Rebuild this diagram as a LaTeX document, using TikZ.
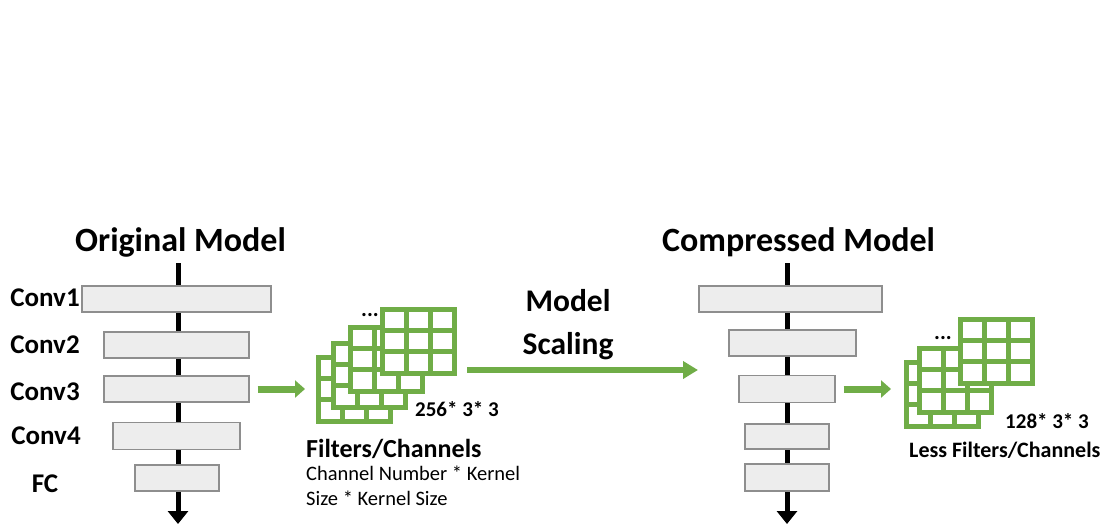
\documentclass[tikz,border=0pt]{standalone}
\usepackage{fontspec}
\setmainfont{Carlito}
\usetikzlibrary{arrows.meta}

\definecolor{leafgreen}{HTML}{70AD47}
\definecolor{boxgray}{HTML}{EDEDED}
\definecolor{edgegray}{HTML}{8E8E8E}

\tikzset{
  layerbox/.style={draw=edgegray, fill=boxgray, line width=1.4pt, inner sep=0pt},
  flow/.style={line width=5pt, -{Triangle[length=13pt,width=20pt]}},
  greenarrow/.style={leafgreen, line width=7pt, -{Triangle[length=10pt,width=17pt]}},
  title/.style={font=\bfseries\fontsize{34}{40}\selectfont, inner sep=0pt, anchor=base west},
  convlabel/.style={font=\bfseries\fontsize{27}{32}\selectfont, inner sep=0pt, anchor=base},
  note/.style={inner sep=0pt, anchor=base west},
  filter/.pic={
    \filldraw[draw=leafgreen, fill=white, line width=5pt] (0,0) rectangle (72,64);
    \foreach \i in {1,2} {
      \draw[leafgreen, line width=5pt] (24*\i,0) -- (24*\i,64);
      \draw[leafgreen, line width=5pt] (0,21.33*\i) -- (72,21.33*\i);
    }
  }
}

\begin{document}
\begin{tikzpicture}[x=1pt, y=-1pt]
  \useasboundingbox (0,0) rectangle (1104,525);

  % original model
  \node[title] (otitle) at (75,251) {Original Model};
  \coordinate (ltop) at (178,263);
  \coordinate (lbot) at (178,524);
  \draw [flow] (ltop) -- (lbot);

  \node[layerbox, minimum width=189pt, minimum height=26pt] (c1) at (176.5,299) {};
  \node[layerbox, minimum width=145pt, minimum height=26pt] (c2) at (176.5,345) {};
  \node[layerbox, minimum width=145pt, minimum height=26pt] (c3) at (176.5,389) {};
  \node[layerbox, minimum width=127pt, minimum height=27pt] (c4) at (176.5,436) {};
  \node[layerbox, minimum width=84pt, minimum height=26pt] (fc) at (177,478) {};

  \node[convlabel] (l1) at (45,306) {Conv1};
  \node[convlabel] (l2) at (45,353) {Conv2};
  \node[convlabel] (l3) at (45,400) {Conv3};
  \node[convlabel] (l4) at (46,444) {Conv4};
  \node[convlabel] (l5) at (45,492) {FC};

  % filters of the original model
  \foreach \fx/\fy in {318/357, 333/343, 350/327, 382/309}
    \pic at (\fx,\fy) {filter};
  \coordinate (fl) at (318,389);
  \coordinate (fr) at (455,370);
  \draw [greenarrow] ([xshift=8pt]c3.east) -- ([xshift=-13pt]fl);
  \node[note, font=\bfseries\fontsize{22}{24}\selectfont] (dots1) at (361,316) {...};
  \node[note, font=\bfseries\fontsize{21}{24}\selectfont] (n1) at (415,416) {256* 3* 3};
  \node[note, font=\bfseries\fontsize{26}{30}\selectfont] (f1) at (306,457) {Filters/Channels};
  \node[note, font=\fontsize{20.5}{25}\selectfont] (f2) at (306,480) {Channel Number * Kernel};
  \node[note, font=\fontsize{20.5}{25}\selectfont] (f3) at (306,505) {Size * Kernel Size};

  % scaling
  \node[font=\bfseries\fontsize{31.5}{43}\selectfont, align=center, inner sep=0pt] (scale) at (568,325) {Model\\Scaling};
  \coordinate (rin) at (698,370);
  \draw [greenarrow, line width=6pt, -{Triangle[length=15pt,width=17pt]}] ([xshift=12pt]fr) -- (rin);

  % compressed model
  \node[title] (ctitle) at (662,251) {Compressed Model};
  \coordinate (rtop) at (787,263);
  \coordinate (rbot) at (787,524);
  \draw [flow] (rtop) -- (rbot);

  \node[layerbox, minimum width=183pt, minimum height=26pt] (r1) at (790.5,299) {};
  \node[layerbox, minimum width=127pt, minimum height=26pt] (r2) at (792.5,343) {};
  \node[layerbox, minimum width=96pt, minimum height=27pt] (r3) at (787,389) {};
  \node[layerbox, minimum width=84pt, minimum height=25pt] (r4) at (787,436.5) {};
  \node[layerbox, minimum width=84pt, minimum height=27pt] (r5) at (787,477.5) {};

  % filters of the compressed model
  \foreach \fx/\fy in {906/362, 919/348, 960/319}
    \pic at (\fx,\fy) {filter};
  \coordinate (gl) at (906,389);
  \draw [greenarrow] ([xshift=8pt]r3.east) -- ([xshift=-15pt]gl);
  \node[note, font=\bfseries\fontsize{22}{24}\selectfont] (dots2) at (934,339) {...};
  \node[note, font=\bfseries\fontsize{21}{24}\selectfont] (n2) at (1005,428) {128* 3* 3};
  \node[note, font=\bfseries\fontsize{22}{26}\selectfont] (g1) at (909,457) {Less Filters/Channels};
\end{tikzpicture}
\end{document}
